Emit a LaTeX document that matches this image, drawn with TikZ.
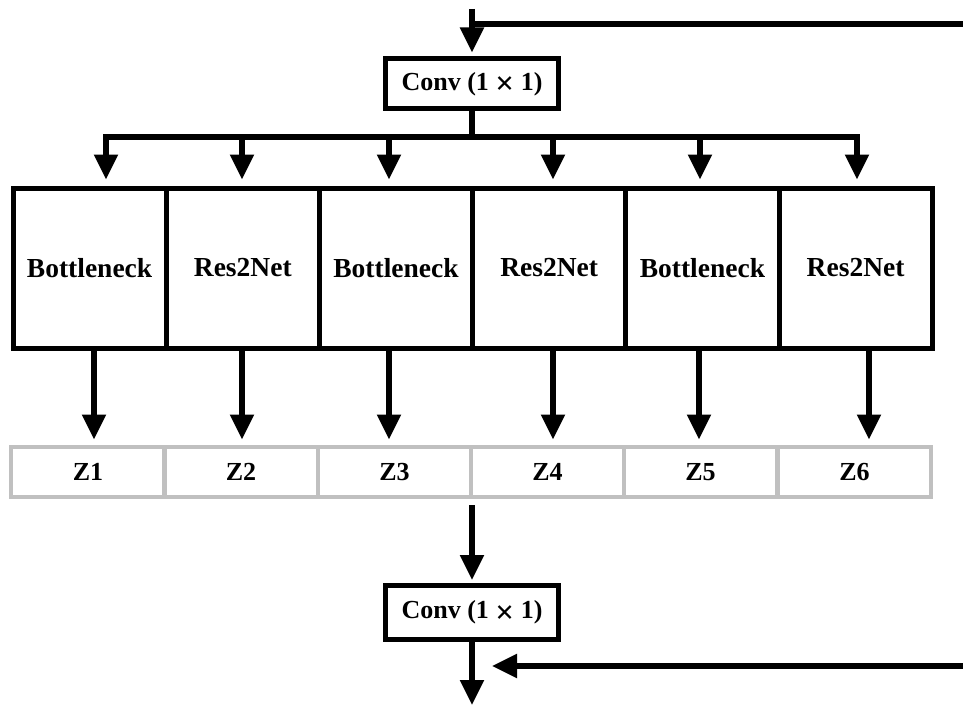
\documentclass[tikz,border=0pt]{standalone}
\usepackage{fontspec}
\setmainfont{Liberation Serif}
\usetikzlibrary{arrows.meta}
\newcommand{\bigtimes}{{\fontsize{33}{30}\selectfont\raisebox{-4.5pt}{×}}}
\begin{document}
\begin{tikzpicture}[x=1pt,y=-1pt,
  every node/.style={font=\fontsize{26}{30}\selectfont\bfseries, inner sep=0pt},
  blk/.style={draw=black, line width=5pt, minimum width=153.2pt, minimum height=160pt, font=\fontsize{27.5}{30}\selectfont\bfseries},
  zbox/.style={draw=zgray, line width=4pt, minimum width=153.2pt, minimum height=50pt},
  convbox/.style={draw=black, line width=5pt, minimum width=173pt},
  wire/.style={line width=5.5pt},
  arr/.style={line width=5.5pt, -{Triangle[width=23pt,length=25pt]}}
]
\definecolor{zgray}{RGB}{192,192,192}
\useasboundingbox (0,0) rectangle (963,706);

% top conv
\node[convbox, minimum height=50pt] (c1) at (472,84) {Conv (1 \bigtimes\ 1)};
\coordinate (in1) at (472,9);
\coordinate (in1r) at (963,24);
\coordinate (in1j) at (472,24);
\draw[arr, shorten >=4pt] (in1) -- (c1.north);
\draw[wire] (in1r) -- (in1j);

% blocks
\node[blk] (b1) at (89.6,268) {Bottleneck};
\node[blk] (b2) at (242.8,268) {Res2Net};
\node[blk] (b3) at (396.0,268) {Bottleneck};
\node[blk] (b4) at (549.2,268) {Res2Net};
\node[blk] (b5) at (702.4,268) {Bottleneck};
\node[blk] (b6) at (855.6,268) {Res2Net};

% bus
\coordinate (bus) at (472,137);
\coordinate (bl) at (106,137);
\coordinate (br) at (857,137);
\draw[wire] (c1.south) -- (bus);
\draw[wire, line cap=rect] (bl) -- (br);
\foreach \x/\b in {106/b1,242/b2,389/b3,553/b4,700/b5,857/b6}{
  \coordinate (t\b) at (\x,137);
  \draw[arr, shorten >=6pt] (t\b) -- (t\b |- \b.north);
}

% z row
\node[zbox] (z1) at (88,472) {Z1};
\node[zbox] (z2) at (241,472) {Z2};
\node[zbox] (z3) at (394.5,472) {Z3};
\node[zbox] (z4) at (547.5,472) {Z4};
\node[zbox] (z5) at (700.5,472) {Z5};
\node[zbox] (z6) at (854.5,472) {Z6};

\foreach \x/\b/\z in {94/b1/z1,242/b2/z2,389/b3/z3,553/b4/z4,699/b5/z5,869/b6/z6}{
  \coordinate (s\b) at (\x,348);
  \draw[arr, shorten >=5.5pt] (s\b) -- (s\b |- \z.north);
}

% bottom conv
\node[convbox, minimum height=54pt] (c2) at (472,612.5) {Conv (1 \bigtimes\ 1)};
\coordinate (zout) at (472,505);
\draw[arr, shorten >=3pt] (zout) -- (c2.north);
\coordinate (out) at (472,705);
\draw[arr] (c2.south) -- (out);
\coordinate (skip) at (963,666);
\coordinate (skipend) at (492,666);
\draw[arr] (skip) -- (skipend);
\end{tikzpicture}
\end{document}
